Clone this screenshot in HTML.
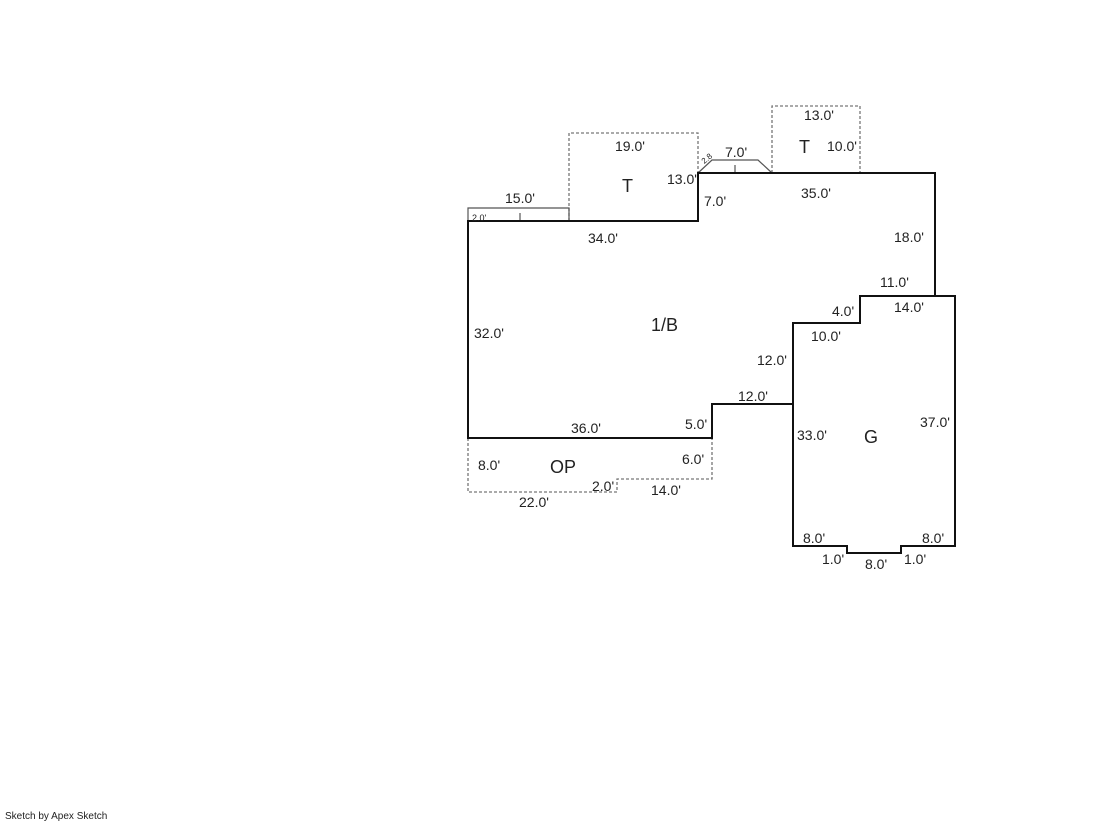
<!DOCTYPE html>
<html><head><style>
body{margin:0;background:#fff;}
svg{display:block;font-family:"Liberation Sans",Arial,sans-serif;}
text{font-size:14px;fill:#222;}
.b{font-size:18px;}
</style></head><body>
<svg width="1119" height="821" viewBox="0 0 1119 821">
<g fill="none" stroke="#777" stroke-width="1.3" stroke-dasharray="3,2">
<polyline points="569,221 569,133 698,133 698,173"/>
<polyline points="772,173 772,106 860,106 860,173"/>
<polyline points="468,438 468,492 617,492 617,479 712,479 712,438"/>
</g>
<g fill="none" stroke="#555" stroke-width="1.2">
<polyline points="468,221 468,208 569,208 569,221"/>
<polyline points="698,173 712,160 758,160 772,173"/>
<line x1="520" y1="221" x2="520" y2="213"/>
<line x1="735" y1="173" x2="735" y2="165"/>
</g>
<g fill="none" stroke="#111" stroke-width="2">
<polygon points="468,221 698,221 698,173 935,173 935,296 860,296 860,323 793,323 793,404 712,404 712,438 468,438"/>
<polyline points="860,296 955,296 955,546 901,546 901,553 847,553 847,546 793,546 793,404"/>
</g>
<text x="505" y="203">15.0'</text>
<text x="472" y="221" style="font-size:9px">2.0'</text>
<text x="615" y="151">19.0'</text>
<text class="b" x="622" y="192">T</text>
<text x="667" y="184">13.0'</text>
<text x="704" y="206">7.0'</text>
<text x="725" y="157">7.0'</text>
<text x="702" y="162" style="font-size:8px" transform="rotate(-40 706 160)">2.8</text>
<text x="804" y="120">13.0'</text>
<text class="b" x="799" y="153">T</text>
<text x="827" y="151">10.0'</text>
<text x="801" y="198">35.0'</text>
<text x="588" y="243">34.0'</text>
<text x="894" y="242">18.0'</text>
<text x="880" y="287">11.0'</text>
<text x="832" y="316">4.0'</text>
<text x="894" y="312">14.0'</text>
<text x="811" y="341">10.0'</text>
<text x="474" y="338">32.0'</text>
<text class="b" x="651" y="331">1/B</text>
<text x="757" y="365">12.0'</text>
<text x="738" y="401">12.0'</text>
<text x="571" y="433">36.0'</text>
<text x="685" y="429">5.0'</text>
<text x="797" y="440">33.0'</text>
<text class="b" x="864" y="443">G</text>
<text x="920" y="427">37.0'</text>
<text x="478" y="470">8.0'</text>
<text class="b" x="550" y="473">OP</text>
<text x="682" y="464">6.0'</text>
<text x="592" y="491">2.0'</text>
<text x="651" y="495">14.0'</text>
<text x="519" y="507">22.0'</text>
<text x="803" y="543">8.0'</text>
<text x="922" y="543">8.0'</text>
<text x="822" y="564">1.0'</text>
<text x="865" y="569">8.0'</text>
<text x="904" y="564">1.0'</text>
<text x="5" y="819" style="font-size:10px">Sketch by Apex Sketch</text>
</svg>
</body></html>
